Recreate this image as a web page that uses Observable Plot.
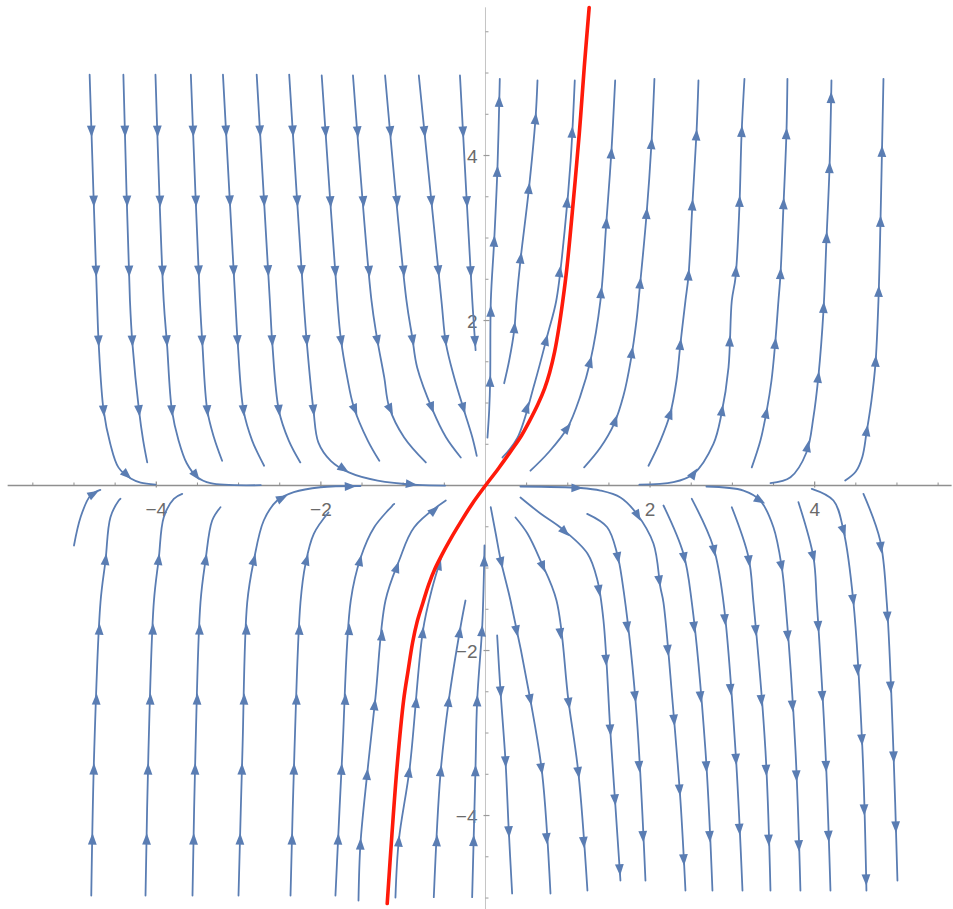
<!DOCTYPE html>
<html><head><meta charset="utf-8">
<script src="https://cdn.jsdelivr.net/npm/d3@7"></script>
<script src="https://cdn.jsdelivr.net/npm/@observablehq/plot@0.6"></script>
<style>html,body{margin:0;padding:0;background:#fff}svg{display:block}</style>
</head><body><div id="chart"></div>
<script>
// ---- streamlines (points listed in flow direction), data units ----
// upper-left: coming down from the top, bending into the x-axis
const q2_1 = [[-4.81,4.98],[-4.72,2.24],[-4.70,1.72],[-4.64,0.91],[-4.56,0.51],[-4.46,0.22],[-4.31,0.085],[-4.19,0.036],[-4.01,0.012]];
const q2_2 = [[-4.40,4.98],[-4.32,2.24],[-4.29,1.72],[-4.21,0.91],[-4.16,0.55],[-4.11,0.28]];
const q2_3 = [[-4.01,4.98],[-3.91,2.24],[-3.87,1.72],[-3.81,0.91],[-3.73,0.55],[-3.63,0.27],[-3.50,0.10],[-3.34,0.028],[-2.73,0.004]];
const q2_4 = [[-3.58,4.98],[-3.47,2.24],[-3.44,1.72],[-3.38,0.91],[-3.30,0.585],[-3.20,0.30]];
const q2_5 = [[-3.19,4.98],[-3.04,2.24],[-3.01,1.72],[-2.94,0.91],[-2.835,0.545],[-2.69,0.24]];
const q2_6 = [[-2.78,4.98],[-2.62,2.24],[-2.59,1.72],[-2.51,0.91],[-2.39,0.545],[-2.25,0.28]];
const q2_7 = [[-2.385,4.98],[-2.21,2.24],[-2.17,1.72],[-2.09,0.91],[-2.03,0.52],[-1.88,0.30],[-1.66,0.16],[-1.31,0.06],[-0.83,0.008],[-0.49,0]];
const q2_8 = [[-1.99,4.97],[-1.80,2.24],[-1.76,1.80],[-1.68,1.31],[-1.60,0.95],[-1.43,0.545],[-1.29,0.30]];
const q2_9 = [[-1.61,4.97],[-1.385,2.24],[-1.32,1.80],[-1.23,1.31],[-1.17,0.95],[-0.99,0.585],[-0.725,0.28]];
const q2_10 = [[-1.22,4.97],[-0.96,2.24],[-0.89,1.80],[-0.83,1.43],[-0.64,0.91],[-0.48,0.585],[-0.30,0.34]];
const q2_11 = [[-0.81,4.97],[-0.535,2.24],[-0.48,1.72],[-0.38,1.31],[-0.26,0.91],[-0.16,0.585],[-0.106,0.36]];
const q2_12 = [[-0.31,4.97],[-0.16,2.24],[-0.12,1.64]];
// upper-right: leaving the x-axis, going up
const q1_1 = [[0.024,0.58],[0.045,0.91],[0.057,1.27],[0.065,2.24],[0.106,2.97],[0.146,3.86],[0.174,4.93]];
const q1_2 = [[0.227,1.24],[0.288,1.515],[0.349,1.88],[0.377,2.24],[0.425,2.73],[0.526,3.58],[0.608,4.45],[0.632,4.91]];
const q1_3 = [[0.207,0.34],[0.389,0.58],[0.60,1.25],[0.76,1.85],[0.86,2.24],[0.962,3.09],[1.035,3.94],[1.085,4.91]];
const q1_4 = [[0.547,0.18],[0.765,0.40],[0.996,0.70],[1.154,1.09],[1.276,1.515],[1.397,2.24],[1.47,3.21],[1.531,4.06],[1.576,4.91]];
const q1_5 = [[1.199,0.22],[1.397,0.46],[1.564,0.75],[1.677,1.09],[1.765,1.515],[1.835,2.0],[1.871,2.36],[1.956,3.27],[2.017,4.145],[2.053,4.93]];
const q1_6 = [[1.981,0.24],[2.126,0.545],[2.244,0.87],[2.321,1.27],[2.369,1.72],[2.43,2.24],[2.467,2.545],[2.515,3.42],[2.564,4.27],[2.588,4.91]];
const q1_7 = [[1.87,0.01],[2.284,0.04],[2.527,0.14],[2.77,0.505],[2.868,0.87],[2.953,1.43],[2.993,2.24],[3.038,2.52],[3.086,3.39],[3.111,4.24],[3.147,4.93]];
const q1_8 = [[3.236,0.22],[3.341,0.545],[3.418,0.91],[3.475,1.27],[3.52,1.72],[3.56,2.24],[3.584,2.545],[3.621,3.39],[3.657,4.27],[3.669,4.93]];
const q1_9 = [[3.463,0.028],[3.706,0.10],[3.90,0.40],[3.985,0.83],[4.046,1.33],[4.107,2.12],[4.143,2.97],[4.18,3.84],[4.204,4.91]];
const q1_10 = [[4.371,0.06],[4.50,0.17],[4.58,0.35],[4.63,0.64],[4.69,1.03],[4.739,1.48],[4.775,2.24],[4.80,3.21],[4.818,4.06],[4.836,4.93]];
// lower-left: coming up from the bottom, bending into the x-axis
const q3_a = [[-5.00,-0.727],[-4.92,-0.384],[-4.80,-0.121],[-4.68,-0.052]];
const q3_b = [[-4.79,-4.97],[-4.754,-3.21],[-4.678,-1.415],[-4.617,-0.909],[-4.557,-0.384],[-4.456,-0.182],[-4.435,-0.161]];
const q3_c = [[-4.131,-4.97],[-4.095,-3.21],[-4.03,-1.415],[-3.97,-0.885],[-3.909,-0.384],[-3.787,-0.161],[-3.685,-0.101]];
const q3_d = [[-3.56,-4.97],[-3.524,-3.21],[-3.463,-1.415],[-3.402,-0.909],[-3.321,-0.424],[-3.22,-0.263]];
const q3_e = [[-3.001,-4.97],[-2.953,-3.21],[-2.895,-1.415],[-2.815,-0.909],[-2.694,-0.424],[-2.531,-0.182],[-2.329,-0.081],[-2.005,-0.021],[-1.519,-0.006]];
const q3_f = [[-2.369,-4.97],[-2.321,-3.21],[-2.248,-1.415],[-2.187,-0.949],[-2.086,-0.585],[-1.908,-0.327]];
const q3_g = [[-1.823,-4.97],[-1.738,-3.21],[-1.637,-1.394],[-1.515,-0.869],[-1.352,-0.505],[-1.109,-0.222]];
const q3_h = [[-1.543,-5.03],[-1.519,-4.339],[-1.437,-3.491],[-1.337,-2.57],[-1.215,-1.394],[-1.049,-0.909],[-0.866,-0.505],[-0.482,-0.182]];
const q3_i = [[-1.094,-4.994],[-1.053,-4.303],[-0.92,-3.415],[-0.76,-1.758],[-0.655,-1.273],[-0.53,-0.848]];
const q3_j = [[-0.628,-4.99],[-0.547,-3.495],[-0.446,-2.606],[-0.304,-1.718],[-0.243,-1.394]];
const q3_k = [[-0.162,-4.99],[-0.122,-3.455],[-0.101,-2.606],[-0.04,-1.718],[-0.021,-1.152],[-0.012,-0.727]];
// lower-right: leaving the x-axis, going down
const q4_a = [[0.064,-0.263],[0.125,-0.585],[0.186,-0.909],[0.304,-1.394],[0.547,-2.606],[0.689,-3.491],[0.79,-4.945]];
const q4_b = [[0.142,-1.818],[0.182,-2.485],[0.243,-3.333],[0.283,-4.182],[0.324,-4.945]];
const q4_c = [[0.365,-0.388],[0.51,-0.582],[0.668,-0.909],[0.863,-1.394],[1.008,-2.606],[1.13,-3.491],[1.239,-4.909]];
const q4_d = [[0.425,-0.145],[0.668,-0.339],[0.911,-0.509],[1.239,-0.824],[1.361,-1.152],[1.434,-1.636],[1.519,-3.006],[1.58,-3.903],[1.64,-4.788]];
const q4_e = [[1.236,-0.343],[1.479,-0.505],[1.60,-0.828],[1.661,-1.152],[1.823,-2.606],[1.944,-4.788]];
const q4_m = [[0.425,-0.012],[1.154,-0.03],[1.397,-0.061],[1.64,-0.145],[1.835,-0.339],[2.041,-0.703],[2.126,-1.236],[2.163,-1.418],[2.272,-2.606],[2.369,-3.818],[2.43,-4.909]];
const q4_f = [[2.163,-0.242],[2.406,-0.828],[2.507,-1.415],[2.673,-3.212],[2.758,-4.909]];
const q4_g = [[2.507,-0.161],[2.77,-0.748],[2.892,-1.415],[3.038,-3.212],[3.123,-4.909]];
const q4_n = [[2.685,-0.012],[3.135,-0.061],[3.338,-0.182],[3.499,-0.505],[3.60,-0.99],[3.645,-1.415],[3.767,-3.212],[3.827,-4.909]];
const q4_h = [[2.993,-0.263],[3.196,-0.869],[3.256,-1.415],[3.402,-3.212],[3.463,-4.909]];
const q4_i = [[3.803,-0.202],[3.985,-0.869],[4.026,-1.415],[4.131,-3.212],[4.192,-4.909]];
const q4_j = [[3.965,-0.04],[4.228,-0.182],[4.35,-0.545],[4.471,-1.415],[4.581,-3.212],[4.629,-4.909]];
const q4_k = [[4.593,-0.101],[4.796,-0.667],[4.876,-1.415],[4.957,-3.212],[5.006,-4.788]];

// red solution curve
const redCurve = [[1.26,5.794],[1.2,5.067],[1.14,4.267],[1.068,3.455],[0.99,2.642],[0.94,2.242],[0.89,1.9],[0.84,1.62],[0.78,1.37],[0.72,1.18],[0.64,0.99],[0.55,0.81],[0.44,0.61],[0.31,0.42],[0.16,0.21],[0,0],
  [-0.16,-0.22],[-0.30,-0.44],[-0.42,-0.64],[-0.53,-0.84],[-0.61,-1.0],[-0.69,-1.2],[-0.76,-1.42],[-0.83,-1.65],[-0.885,-1.9],[-0.94,-2.242],[-0.995,-2.606],[-1.075,-3.418],[-1.136,-4.218],[-1.194,-5.067]];

// axes
const xTicks = [-5.5,-5,-4.5,-4,-3.5,-3,-2.5,-2,-1.5,-1,-0.5,0.5,1,1.5,2,2.5,3,3.5,4,4.5,5,5.5];
const yTicks = [-5,-4.5,-4,-3.5,-3,-2.5,-2,-1.5,-1,-0.5,0.5,1,1.5,2,2.5,3,3.5,4,4.5,5,5.5];
const xLabels = [-4,-2,2,4];
const yLabels = [-4,-2,2,4];

const streamlines = [q2_1,q2_2,q2_3,q2_4,q2_5,q2_6,q2_7,q2_8,q2_9,q2_10,q2_11,q2_12,
  q1_1,q1_2,q1_3,q1_4,q1_5,q1_6,q1_7,q1_8,q1_9,q1_10,
  q3_a,q3_b,q3_c,q3_d,q3_e,q3_f,q3_g,q3_h,q3_i,q3_j,q3_k,
  q4_a,q4_b,q4_c,q4_d,q4_e,q4_m,q4_f,q4_g,q4_n,q4_h,q4_i,q4_j,q4_k];

const BLUE = "#5a7db3", AXIS = "#8f8f8f", LABEL = "#6a6a6a";
const FONT = "Liberation Sans, Arial, sans-serif";
const flat = streamlines.flatMap((pts, i) => pts.map(([x, y]) => ({id: i, x, y})));
const redData = redCurve.map(([x, y]) => ({x, y}));

const common = {
  width: 953, height: 909, margin: 0,
  x: {domain: [-5.893, 5.687]}, y: {domain: [-5.139, 5.879]}, axis: null
};

// probe plot to obtain the library's scales (for arrowhead placement along curves)
const probe = Plot.plot({...common, marks: [Plot.line(flat, {x: "x", y: "y", z: "id"})]});
const X = probe.scale("x"), Y = probe.scale("y");

const arrows = [];
for (const pts of streamlines) {
  const sp = pts.map(([x, y]) => [X.apply(x), Y.apply(y)]);
  let total = 0;
  for (let i = 1; i < sp.length; i++) total += Math.hypot(sp[i][0]-sp[i-1][0], sp[i][1]-sp[i-1][1]);
  let next = 56, acc = 0;
  for (let i = 1; i < sp.length; i++) {
    const [x0, y0] = sp[i-1], [x1, y1] = sp[i];
    const seg = Math.hypot(x1-x0, y1-y0);
    while (next <= acc + seg && next <= total - 4) {
      const t = (next - acc) / seg;
      const px = x0 + t*(x1-x0), py = y0 + t*(y1-y0);
      arrows.push({x: X.invert(px), y: Y.invert(py), angle: Math.atan2(x1-x0, -(y1-y0)) * 180 / Math.PI});
      next += 70;
    }
    acc += seg;
  }
}

const arrowHead = {draw(ctx) { ctx.moveTo(0, -6.5); ctx.lineTo(4.4, 5); ctx.lineTo(-4.4, 5); ctx.closePath(); }};
const tickUpMinor = {draw(ctx) { ctx.moveTo(0, 0); ctx.lineTo(0, -3); }};
const tickUpMajor = {draw(ctx) { ctx.moveTo(0, 2); ctx.lineTo(0, -4); }};
const tickRightMinor = {draw(ctx) { ctx.moveTo(0, 0); ctx.lineTo(3, 0); }};
const tickRightMajor = {draw(ctx) { ctx.moveTo(-2, 0); ctx.lineTo(4, 0); }};
const fmt = d => d < 0 ? "\u2212" + Math.abs(d) : String(d);
const isMajor = d => xLabels.includes(d);

const chart = Plot.plot({
  ...common,
  style: {background: "#fff"},
  marks: [
    Plot.ruleX([0], {y1: -5.14, y2: 5.79, stroke: "#c4c4c4", strokeWidth: 1}),
    Plot.ruleY([0], {x1: -5.8, x2: 5.67, stroke: AXIS, strokeWidth: 1.6}),
    Plot.dot(xTicks.filter(d => !isMajor(d)), {x: d => d, y: 0, symbol: tickUpMinor, stroke: AXIS, fill: "none", strokeWidth: 1}),
    Plot.dot(xTicks.filter(isMajor), {x: d => d, y: 0, symbol: tickUpMajor, stroke: AXIS, fill: "none", strokeWidth: 1.2}),
    Plot.dot(yTicks.filter(d => !yLabels.includes(d)), {x: 0, y: d => d, symbol: tickRightMinor, stroke: "#9a9a9a", fill: "none", strokeWidth: 1}),
    Plot.dot(yTicks.filter(d => yLabels.includes(d)), {x: 0, y: d => d, symbol: tickRightMajor, stroke: "#9a9a9a", fill: "none", strokeWidth: 1.2}),
    Plot.text(xLabels, {x: d => d, y: 0, text: fmt, dy: 24, fontSize: 19, fill: LABEL, fontFamily: FONT}),
    Plot.text(yLabels, {x: 0, y: d => d, text: fmt, dx: -8, dy: 1, textAnchor: "end", fontSize: 19, fill: LABEL, fontFamily: FONT}),
    Plot.line(flat, {x: "x", y: "y", z: "id", curve: "catmull-rom", stroke: BLUE, strokeWidth: 1.8}),
    Plot.dot(arrows, {x: "x", y: "y", rotate: "angle", symbol: arrowHead, fill: BLUE, stroke: "none", r: 4}),
    Plot.line(redData, {x: "x", y: "y", curve: "catmull-rom", stroke: "#ff1a0a", strokeWidth: 3.6})
  ]
});
document.getElementById("chart").append(chart);
</script>
</body></html>
